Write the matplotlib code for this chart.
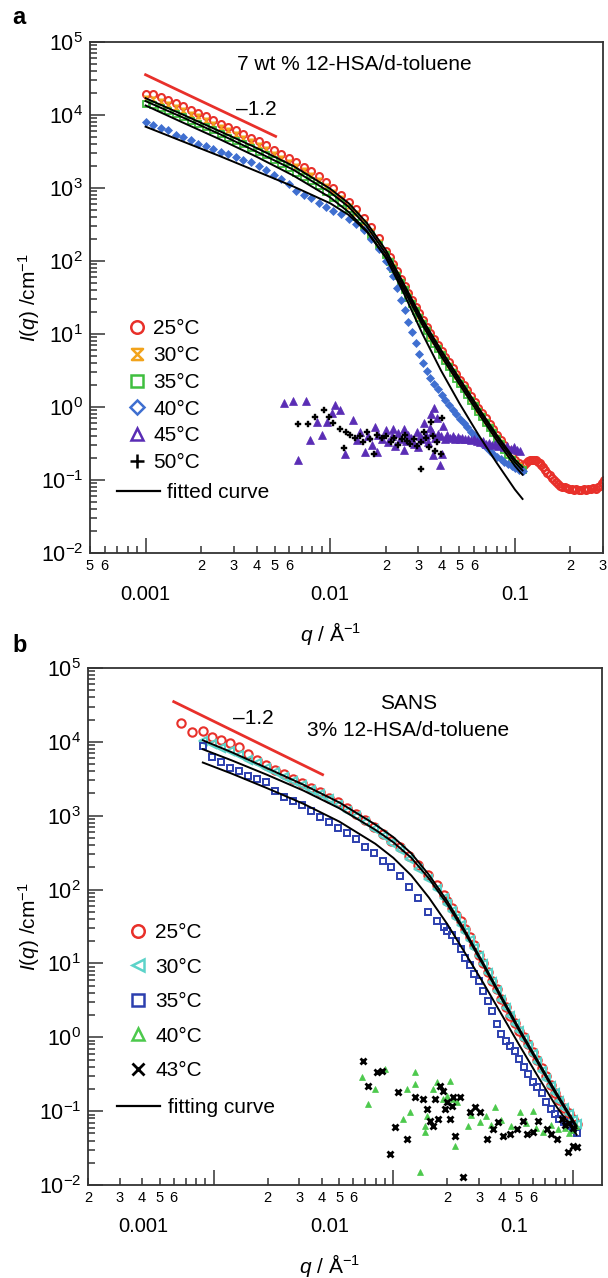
import numpy as np
import matplotlib
matplotlib.use("Agg")
import matplotlib.pyplot as plt
from matplotlib.path import Path
from matplotlib.lines import Line2D
from matplotlib.ticker import LogLocator, NullFormatter, FuncFormatter, LogFormatterMathtext

plt.rcParams['font.family'] = ['Liberation Sans', 'DejaVu Sans']
plt.rcParams['mathtext.fontset'] = 'custom'
plt.rcParams['mathtext.rm'] = 'Liberation Sans'
plt.rcParams['mathtext.it'] = 'Liberation Sans:italic'
plt.rcParams['mathtext.bf'] = 'Liberation Sans:bold'

# ---------------- panel a : 7 wt % 12-HSA/d-toluene ----------------
q_a = [0.00100, 0.00110, 0.00121, 0.00133, 0.00146, 0.00160, 0.00176, 0.00193, 0.00212, 0.00233,
       0.00256, 0.00281, 0.00309, 0.00339, 0.00372, 0.00409, 0.00449, 0.00493, 0.00541, 0.00595,
       0.00653, 0.00717, 0.00788, 0.00865, 0.00950, 0.0104, 0.0115, 0.0126, 0.0138, 0.0152,
       0.0167, 0.0183, 0.0201, 0.0210, 0.0220, 0.0231, 0.0242, 0.0253, 0.0265, 0.0277,
       0.0290, 0.0304, 0.0318, 0.0333, 0.0349, 0.0365, 0.0383, 0.0401, 0.0419, 0.0439,
       0.0460, 0.0482, 0.0504, 0.0528, 0.0553, 0.0579, 0.0606, 0.0635, 0.0665, 0.0696,
       0.0729, 0.0763, 0.0799, 0.0837, 0.0876, 0.0917, 0.0960, 0.1005, 0.1053, 0.110]
I_a25 = [19100, 19500, 17400, 15800, 14500, 13200, 11700, 10700, 9550, 8510,
         7590, 6920, 6170, 5500, 4900, 4370, 3890, 3310, 2880, 2570,
         2240, 1950, 1700, 1450, 1200, 1000, 813, 646, 513, 389,
         288, 204, 138, 112, 91.2, 72.4, 57.5, 45.7, 36.3, 29.5,
         23.4, 19.1, 15.5, 12.6, 10.2, 8.51, 7.08, 5.89, 4.90, 4.07,
         3.39, 2.82, 2.34, 2.00, 1.70, 1.40, 1.17, 0.98, 0.83, 0.70,
         0.59, 0.50, 0.42, 0.355, 0.30, 0.255, 0.218, 0.188, 0.170, 0.160]
q_a25_tail = [0.112, 0.115, 0.118, 0.121, 0.124, 0.127, 0.130, 0.133, 0.136, 0.139,
              0.142, 0.146, 0.150, 0.154, 0.158, 0.162, 0.166, 0.171, 0.176, 0.181,
              0.186, 0.191, 0.197, 0.203, 0.209, 0.215, 0.222, 0.229, 0.236, 0.243,
              0.250, 0.258, 0.266, 0.274, 0.282, 0.290, 0.297, 0.302]
I_a25_tail = [0.160, 0.170, 0.180, 0.186, 0.190, 0.189, 0.185, 0.178, 0.170, 0.160,
              0.150, 0.138, 0.126, 0.116, 0.106, 0.099, 0.093, 0.088, 0.084, 0.081,
              0.079, 0.077, 0.076, 0.075, 0.074, 0.075, 0.073, 0.074, 0.075, 0.074,
              0.076, 0.075, 0.077, 0.076, 0.079, 0.083, 0.090, 0.100]
I_a30 = [17000, 16500, 15500, 14100, 12900, 11700, 10400, 9550, 8510, 7590,
         6760, 6170, 5500, 4900, 4370, 3890, 3470, 2950, 2570, 2290,
         2000, 1740, 1510, 1290, 1070, 891, 724, 575, 457, 347,
         257, 182, 128, 104, 84.8, 67.3, 53.5, 42.5, 33.8, 27.4,
         21.8, 17.8, 14.4, 11.7, 9.49, 7.91, 6.58, 5.48, 4.56, 3.79,
         3.15, 2.62, 2.18, 1.86, 1.58, 1.30, 1.09, 0.91, 0.77, 0.65,
         0.55, 0.465, 0.39, 0.33, 0.28, 0.237, 0.203, 0.175, 0.158, 0.146]
I_a35 = [14100, 13500, 12300, 11200, 10200, 9330, 8320, 7590, 6760, 6170,
         5500, 4900, 4470, 3980, 3550, 3160, 2820, 2450, 2140, 1860,
         1620, 1410, 1230, 1050, 871, 724, 631, 513, 398, 302,
         224, 166, 120, 95.5, 77.6, 63.1, 50.1, 39.8, 31.6, 25.7,
         20.4, 16.6, 13.5, 11.0, 8.91, 7.41, 6.17, 5.13, 4.27, 3.55,
         2.95, 2.45, 2.04, 1.74, 1.48, 1.21, 1.02, 0.85, 0.72, 0.61,
         0.51, 0.435, 0.365, 0.31, 0.26, 0.222, 0.19, 0.164, 0.148, 0.137]
I_a40 = [7940, 7410, 6610, 6170, 5370, 5010, 4570, 3980, 3720, 3470,
         3160, 2880, 2630, 2400, 2240, 2000, 1740, 1510, 1320, 1120,
         912, 794, 724, 631, 550, 490, 437, 380, 324, 263,
         200, 145, 100, 81.3, 61.7, 42.7, 29.5, 21.4, 14.8, 10.5,
         7.59, 5.37, 3.98, 3.16, 2.51, 2.09, 1.74, 1.45, 1.23, 1.07,
         0.912, 0.794, 0.692, 0.603, 0.525, 0.457, 0.398, 0.355, 0.316, 0.282,
         0.251, 0.229, 0.209, 0.191, 0.178, 0.166, 0.155, 0.148, 0.138, 0.132]
q_a45 = [0.0056, 0.00625, 0.00735, 0.01064, 0.0102, 0.0113, 0.0085, 0.00963, 0.0133, 0.00781,
         0.00905, 0.00672, 0.0120, 0.0154, 0.0174, 0.0139, 0.0145, 0.0160, 0.0168, 0.0182,
         0.0190, 0.0200, 0.0205, 0.0215, 0.0225, 0.0232, 0.0240, 0.0250, 0.0258, 0.0265,
         0.0275, 0.0285, 0.0295, 0.0305, 0.0315, 0.0322, 0.0330, 0.0338, 0.0345, 0.0355,
         0.0362, 0.0370, 0.0378, 0.0385, 0.0392, 0.0400, 0.0410, 0.0420, 0.0430, 0.0445,
         0.0460, 0.0475, 0.0490, 0.0505, 0.0520, 0.0540, 0.0560, 0.0580, 0.0600, 0.0620,
         0.0645, 0.0670, 0.0695, 0.0720, 0.0750, 0.0780, 0.0810, 0.0840, 0.0875, 0.0910,
         0.0950, 0.0990, 0.1030, 0.1070, 0.0300, 0.0250, 0.0220, 0.0180, 0.0366, 0.0350,
         0.0405]
I_a45 = [1.15, 1.22, 1.22, 1.08, 0.84, 0.90, 0.615, 0.615, 0.66, 0.35,
         0.41, 0.187, 0.226, 0.24, 0.53, 0.35, 0.45, 0.40, 0.30, 0.42,
         0.36, 0.48, 0.33, 0.40, 0.29, 0.44, 0.37, 0.50, 0.34, 0.42,
         0.38, 0.31, 0.45, 0.40, 0.36, 0.60, 0.42, 0.33, 0.52, 0.45,
         0.22, 0.38, 0.70, 0.43, 0.16, 0.40, 0.55, 0.36, 0.42, 0.38,
         0.40, 0.36, 0.39, 0.37, 0.38, 0.36, 0.37, 0.35, 0.36, 0.34,
         0.33, 0.34, 0.31, 0.32, 0.30, 0.31, 0.29, 0.30, 0.28, 0.29,
         0.27, 0.28, 0.26, 0.25, 0.28, 0.26, 0.50, 0.24, 0.98, 0.80,
         0.23]
q_a50 = [0.00672, 0.0076, 0.0083, 0.0092, 0.0098, 0.0104, 0.0113, 0.0122, 0.0128, 0.0137,
         0.0118, 0.0145, 0.0150, 0.0158, 0.0165, 0.0172, 0.0180, 0.0190, 0.0200, 0.0212,
         0.0222, 0.0232, 0.0245, 0.0255, 0.0262, 0.0272, 0.0285, 0.0295, 0.0310, 0.0310,
         0.0320, 0.0332, 0.0342, 0.0350, 0.0360, 0.0370, 0.0380, 0.0405, 0.0400]
I_a50 = [0.58, 0.58, 0.72, 0.90, 0.72, 0.60, 0.50, 0.45, 0.42, 0.38,
         0.275, 0.40, 0.33, 0.45, 0.36, 0.225, 0.42, 0.38, 0.40, 0.33,
         0.38, 0.30, 0.36, 0.42, 0.34, 0.31, 0.37, 0.29, 0.14, 0.33,
         0.45, 0.38, 0.28, 0.62, 0.40, 0.25, 0.33, 0.70, 0.23]
q_afit = [0.00100, 0.00158, 0.00251, 0.00398, 0.00631, 0.0100, 0.0126, 0.0158, 0.0200,
          0.0251, 0.0316, 0.0398, 0.0501, 0.0631, 0.0794, 0.1000, 0.110]
fit_a25 = [17000, 10200, 6030, 3550, 2000, 977, 617, 331, 141, 47.9, 15.8, 6.03, 2.45, 1.00, 0.42, 0.19, 0.15]
fit_a30 = [15500, 9330, 5500, 3160, 1780, 871, 550, 295, 126, 43.7, 14.5, 5.50, 2.24, 0.92, 0.39, 0.175, 0.135]
fit_a35 = [13500, 7940, 4680, 2690, 1480, 741, 468, 257, 112, 39.8, 13.2, 5.01, 2.04, 0.84, 0.355, 0.156, 0.118]
fit_a40 = [6920, 4370, 2750, 1700, 1050, 617, 427, 251, 112, 35.5, 10.0, 3.16, 1.12, 0.427, 0.174, 0.0741, 0.0550]
slope_q_a = [0.001, 0.00506]
slope_I_a = [35600, 5100]

# ---------------- panel b : SANS 3% 12-HSA/d-toluene ----------------
q_b = [0.000661, 0.000759, 0.000871, 0.000977, 0.001096, 0.00123, 0.00138, 0.00155, 0.00174, 0.00195,
       0.00219, 0.00245, 0.00275, 0.00309, 0.00347, 0.00389, 0.00437, 0.00490, 0.00550, 0.00617,
       0.00692, 0.00776, 0.00871, 0.00977, 0.01096, 0.0123, 0.0138, 0.0155, 0.0174, 0.0191,
       0.0200, 0.0211, 0.0224, 0.0237, 0.0251, 0.0266, 0.0282, 0.0299, 0.0316, 0.0335,
       0.0355, 0.0376, 0.0398, 0.0422, 0.0447, 0.0473, 0.0501, 0.0531, 0.0562, 0.0596,
       0.0631, 0.0668, 0.0708, 0.0750, 0.0794, 0.0841, 0.0891, 0.0944, 0.1000, 0.1047]
I_b25 = [18200, 13800, 14100, 11700, 10700, 9550, 8510, 6760, 5620, 4790,
         4170, 3630, 3160, 2750, 2400, 2090, 1740, 1510, 1260, 1050,
         871, 708, 562, 457, 380, 288, 214, 158, 115, 85.1,
         69.2, 56.2, 45.7, 37.2, 28.8, 22.9, 17.8, 13.2, 10.2, 7.59,
         5.75, 4.47, 3.31, 2.57, 1.95, 1.55, 1.23, 1.00, 0.813, 0.631,
         0.490, 0.380, 0.295, 0.224, 0.174, 0.141, 0.112, 0.0933, 0.0776, 0.0676]
# 30 and 35 C start at the third q point
I_b30 = [10200, 9330, 8320, 7410, 6610, 5750, 5130, 4470, 3890, 3390,
         2950, 2570, 2240, 1950, 1660, 1410, 1170, 977, 813, 661,
         525, 427, 339, 257, 191, 141, 102, 77.6, 63.1, 51.3,
         41.7, 33.1, 26.3, 20.9, 16.2, 12.6, 9.77, 7.41, 5.62, 4.27,
         3.24, 2.51, 1.95, 1.51, 1.20, 0.955, 0.759, 0.589, 0.457, 0.355,
         0.275, 0.219, 0.174, 0.138, 0.112, 0.0912, 0.0759, 0.0661]
I_b35 = [8910, 6310, 5370, 4470, 3980, 3470, 3160, 2820, 2140, 1820,
         1580, 1410, 1150, 955, 813, 692, 589, 479, 372, 309,
         245, 200, 151, 107, 75.9, 50.1, 38.0, 31.6, 27.5, 24.0,
         20.0, 15.8, 12.0, 9.55, 7.24, 5.75, 4.17, 3.09, 2.29, 1.51,
         1.10, 0.891, 0.759, 0.661, 0.501, 0.398, 0.316, 0.251, 0.209, 0.174,
         0.135, 0.107, 0.0912, 0.0794, 0.0708, 0.0631, 0.0550, 0.0513]
q_b40 = [0.00673, 0.00726, 0.00794, 0.00903, 0.01137, 0.01196, 0.01243, 0.01325, 0.01325, 0.01413,
         0.01507, 0.01507, 0.01545, 0.01668, 0.01755, 0.01897, 0.0200, 0.02074, 0.02154, 0.02208,
         0.02268, 0.02612, 0.0270, 0.0304, 0.0330, 0.0350, 0.03687, 0.0400, 0.0450, 0.0508,
         0.0550, 0.0600, 0.0625, 0.0680, 0.0750, 0.0820, 0.0900, 0.0950, 0.1000, 0.1040]
I_b40 = [0.288, 0.124, 0.198, 0.370, 0.078, 0.198, 0.097, 0.337, 0.232, 0.015,
         0.063, 0.052, 0.086, 0.198, 0.247, 0.145, 0.160, 0.254, 0.145, 0.034,
         0.132, 0.063, 0.090, 0.071, 0.085, 0.065, 0.113, 0.075, 0.063, 0.097,
         0.070, 0.100, 0.060, 0.052, 0.065, 0.058, 0.060, 0.050, 0.055, 0.062]
q_b43 = [0.00681, 0.00726, 0.00815, 0.00860, 0.00962, 0.01026, 0.01066, 0.01196, 0.01325, 0.01468,
         0.01545, 0.01605, 0.01668, 0.0171, 0.01778, 0.01824, 0.01897, 0.01945, 0.01995, 0.02074,
         0.02128, 0.02154, 0.02208, 0.02356, 0.02449, 0.02679, 0.02856, 0.03043, 0.03327, 0.03594,
         0.03828, 0.04083, 0.04467, 0.04887, 0.05275, 0.05549, 0.05995, 0.0640, 0.07171, 0.0750,
         0.08147, 0.0869, 0.0900, 0.09376, 0.0950, 0.1000, 0.1000, 0.1052]
I_b43 = [0.474, 0.218, 0.337, 0.350, 0.026, 0.061, 0.181, 0.042, 0.155, 0.145,
         0.106, 0.073, 0.063, 0.145, 0.078, 0.218, 0.186, 0.106, 0.132, 0.078,
         0.117, 0.155, 0.046, 0.155, 0.013, 0.097, 0.113, 0.097, 0.042, 0.057,
         0.071, 0.046, 0.049, 0.057, 0.073, 0.049, 0.052, 0.073, 0.057, 0.049,
         0.042, 0.078, 0.065, 0.028, 0.070, 0.034, 0.060, 0.033]
q_bfit = [0.000871, 0.00126, 0.00200, 0.00316, 0.00501, 0.00794, 0.0100, 0.0126, 0.0158,
          0.0200, 0.0251, 0.0316, 0.0398, 0.0501, 0.0631, 0.0794, 0.1047]
fit_b25 = [10500, 7240, 4370, 2630, 1510, 759, 513, 309, 158, 69.2, 27.5, 10.2, 3.63, 1.32, 0.501, 0.191, 0.0631]
fit_b30 = [7940, 5620, 3550, 2190, 1260, 646, 437, 269, 141, 63.1, 25.7, 9.55, 3.39, 1.23, 0.468, 0.178, 0.0589]
fit_b35 = [5250, 3720, 2340, 1450, 832, 417, 269, 155, 77.6, 33.9, 13.8, 5.50, 2.09, 0.794, 0.309, 0.123, 0.0479]
slope_q_b = [0.0006, 0.00404]
slope_I_b = [35000, 3600]

decade_labels = ['0.001', '0.01', '0.1']

RED = '#e8302a'
ORANGE = '#f2a31b'
GREEN_A = '#3fbf3f'
BLUE_A = '#3f6fd0'
PURPLE = '#5a2db5'
CYAN = '#5cd3c9'
BLUE_B = '#2c3fae'
GREEN_B = '#4cc94c'
AXCOL = '#333333'

# hourglass marker (30 C, panel a)
hourglass = Path([(-1, 1), (1, 1), (-1, -1), (1, -1), (-1, 1)],
                 [Path.MOVETO, Path.LINETO, Path.LINETO, Path.LINETO, Path.CLOSEPOLY])


def minor_label(v, pos):
    m = int(round(v / 10 ** np.floor(np.log10(v) + 1e-9)))
    return str(m) if 2 <= m <= 6 else ''


def style_axis(ax, xlim, label_q):
    ax.set_xscale('log')
    ax.set_yscale('log')
    ax.set_xlim(*xlim)
    ax.set_ylim(1e-2, 1e5)
    for s in ax.spines.values():
        s.set_linewidth(1.3)
        s.set_color(AXCOL)
    ax.tick_params(which='both', direction='in', top=False, right=False, color=AXCOL, width=1.1)
    ax.tick_params(which='major', length=11)
    ax.tick_params(which='minor', length=5)
    ax.yaxis.set_major_locator(LogLocator(base=10, numticks=10))
    ax.yaxis.set_minor_locator(LogLocator(base=10, subs=np.arange(2, 10), numticks=20))
    ax.yaxis.set_major_formatter(LogFormatterMathtext())
    ax.yaxis.set_minor_formatter(NullFormatter())
    ax.tick_params(axis='y', which='major', labelsize=15.5, pad=5)
    ax.xaxis.set_major_locator(LogLocator(base=10, numticks=10))
    ax.xaxis.set_minor_locator(LogLocator(base=10, subs=np.arange(2, 10), numticks=20))
    ax.xaxis.set_major_formatter(NullFormatter())
    ax.xaxis.set_minor_formatter(FuncFormatter(minor_label))
    ax.tick_params(axis='x', which='minor', labelsize=10.5, pad=4)
    for q, lab in zip(label_q, decade_labels):
        ax.annotate(lab, xy=(q, 0), xycoords=('data', 'axes fraction'), xytext=(0, -30),
                    textcoords='offset points', ha='center', va='center', fontsize=14.5)
    ax.set_xlabel(r'$\mathit{q}$ / Å$^{-1}$', fontsize=15)
    ax.set_ylabel(r'$\mathit{I}(\mathit{q})$ /cm$^{-1}$', fontsize=15)


fig = plt.figure(figsize=(6.08, 12.78), dpi=100)
ax_a = fig.add_axes([90 / 608, 1 - 553 / 1278, 513 / 608, 511 / 1278])
ax_b = fig.add_axes([88 / 608, 1 - 1185 / 1278, 514 / 608, 517 / 1278])

# ---- panel a ----
ax_a.plot(q_a, I_a25, ls='none', marker='o', ms=5, mfc='none', mec=RED, mew=1.5)
ax_a.plot(q_a25_tail, I_a25_tail, ls='none', marker='o', ms=5, mfc='none', mec=RED, mew=1.5)
ax_a.plot(q_a, I_a30, ls='none', marker=hourglass, ms=3.5, mfc=ORANGE, mec=ORANGE, mew=0.8)
ax_a.plot(q_a, I_a35, ls='none', marker='s', ms=4.5, mfc='none', mec=GREEN_A, mew=1.3)
ax_a.plot(q_a, I_a40, ls='none', marker='D', ms=3.8, mfc=BLUE_A, mec=BLUE_A, mew=0.5)
ax_a.plot(q_a45, I_a45, ls='none', marker='^', ms=5.5, mfc=PURPLE, mec=PURPLE, mew=0.5)
ax_a.plot(q_a50, I_a50, ls='none', marker='P', ms=5, mfc='k', mec='k', mew=0.3)
for f in (fit_a25, fit_a30, fit_a35, fit_a40):
    ax_a.plot(q_afit, f, color='k', lw=1.4)
ax_a.plot(slope_q_a, slope_I_a, color=RED, lw=2)
ax_a.text(0.00309, 11900, '–1.2', ha='left', va='center', fontsize=15)
ax_a.text(0.515, 0.955, '7 wt % 12-HSA/d-toluene', ha='center', va='center',
          fontsize=15, transform=ax_a.transAxes)
style_axis(ax_a, (0.0005, 0.30), [0.001, 0.01, 0.1])
ax_a.xaxis.set_label_coords(0.468, -0.131)
ax_a.yaxis.set_label_coords(-0.094, 0.5)

leg_a = [
    Line2D([], [], ls='none', marker='o', ms=9, mfc='none', mec=RED, mew=1.8, label='25°C'),
    Line2D([], [], ls='none', marker=hourglass, ms=8, mfc='none', mec=ORANGE, mew=1.8, label='30°C'),
    Line2D([], [], ls='none', marker='s', ms=8.5, mfc='none', mec=GREEN_A, mew=1.8, label='35°C'),
    Line2D([], [], ls='none', marker='D', ms=7.5, mfc='none', mec=BLUE_A, mew=1.8, label='40°C'),
    Line2D([], [], ls='none', marker='^', ms=9, mfc='none', mec=PURPLE, mew=1.8, label='45°C'),
    Line2D([], [], ls='none', marker='+', ms=10, mec='k', mew=1.8, label='50°C'),
]
l1 = ax_a.legend(handles=leg_a, loc='upper left', bbox_to_anchor=(0.0713, 0.457), frameon=False,
                 fontsize=15, handlelength=1.0, handletextpad=0.27, labelspacing=0.37,
                 borderpad=0, borderaxespad=0)
ax_a.add_artist(l1)
ax_a.legend(handles=[Line2D([], [], color='k', lw=1.6, label='fitted curve')], loc='upper left',
            bbox_to_anchor=(0.0526, 0.137), frameon=False, fontsize=15, handlelength=2.07,
            handletextpad=0.34, borderpad=0, borderaxespad=0)

# ---- panel b ----
ax_b.plot(q_b, I_b25, ls='none', marker='o', ms=6, mfc='none', mec=RED, mew=1.5)
ax_b.plot(q_b[2:], I_b30, ls='none', marker='<', ms=6, mfc='none', mec=CYAN, mew=1.5)
ax_b.plot(q_b[2:], I_b35, ls='none', marker='s', ms=4.5, mfc='none', mec=BLUE_B, mew=1.4)
ax_b.plot(q_b40, I_b40, ls='none', marker='^', ms=5, mfc=GREEN_B, mec=GREEN_B, mew=0.5)
ax_b.plot(q_b43, I_b43, ls='none', marker='x', ms=5, mec='k', mew=2)
for f in (fit_b25, fit_b30, fit_b35):
    ax_b.plot(q_bfit, f, color='k', lw=1.4)
ax_b.plot(slope_q_b, slope_I_b, color=RED, lw=2)
ax_b.text(0.00129, 21000, '–1.2', ha='left', va='center', fontsize=15)
ax_b.text(0.623, 0.932, 'SANS', ha='center', va='center', fontsize=15, transform=ax_b.transAxes)
ax_b.text(0.623, 0.880, '3% 12-HSA/d-toluene', ha='center', va='center', fontsize=15,
          transform=ax_b.transAxes)
# decade labels sit left of their ticks in the original figure
style_axis(ax_b, (0.0002, 0.145), [0.000406, 0.00445, 0.0468])
ax_b.xaxis.set_label_coords(0.47, -0.13)
ax_b.yaxis.set_label_coords(-0.09, 0.5)

leg_b = [
    Line2D([], [], ls='none', marker='o', ms=9, mfc='none', mec=RED, mew=1.8, label='25°C'),
    Line2D([], [], ls='none', marker='<', ms=9, mfc='none', mec=CYAN, mew=1.8, label='30°C'),
    Line2D([], [], ls='none', marker='s', ms=8.5, mfc='none', mec=BLUE_B, mew=1.8, label='35°C'),
    Line2D([], [], ls='none', marker='^', ms=9, mfc='none', mec=GREEN_B, mew=1.8, label='40°C'),
    Line2D([], [], ls='none', marker='x', ms=9, mec='k', mew=2, label='43°C'),
]
l2 = ax_b.legend(handles=leg_b, loc='upper left', bbox_to_anchor=(0.077, 0.507), frameon=False,
                 fontsize=15, handlelength=1.0, handletextpad=0.32, labelspacing=0.75,
                 borderpad=0, borderaxespad=0)
ax_b.add_artist(l2)
ax_b.legend(handles=[Line2D([], [], color='k', lw=1.6, label='fitting curve')], loc='upper left',
            bbox_to_anchor=(0.0564, 0.168), frameon=False, fontsize=15, handlelength=2.07,
            handletextpad=0.38, borderpad=0, borderaxespad=0)

fig.text(12 / 608, 1 - 18 / 1278, 'a', fontsize=17, fontweight='bold', va='center')
fig.text(12 / 608, 1 - 645 / 1278, 'b', fontsize=17, fontweight='bold', va='center')

fig.savefig('out.png', dpi=100)
